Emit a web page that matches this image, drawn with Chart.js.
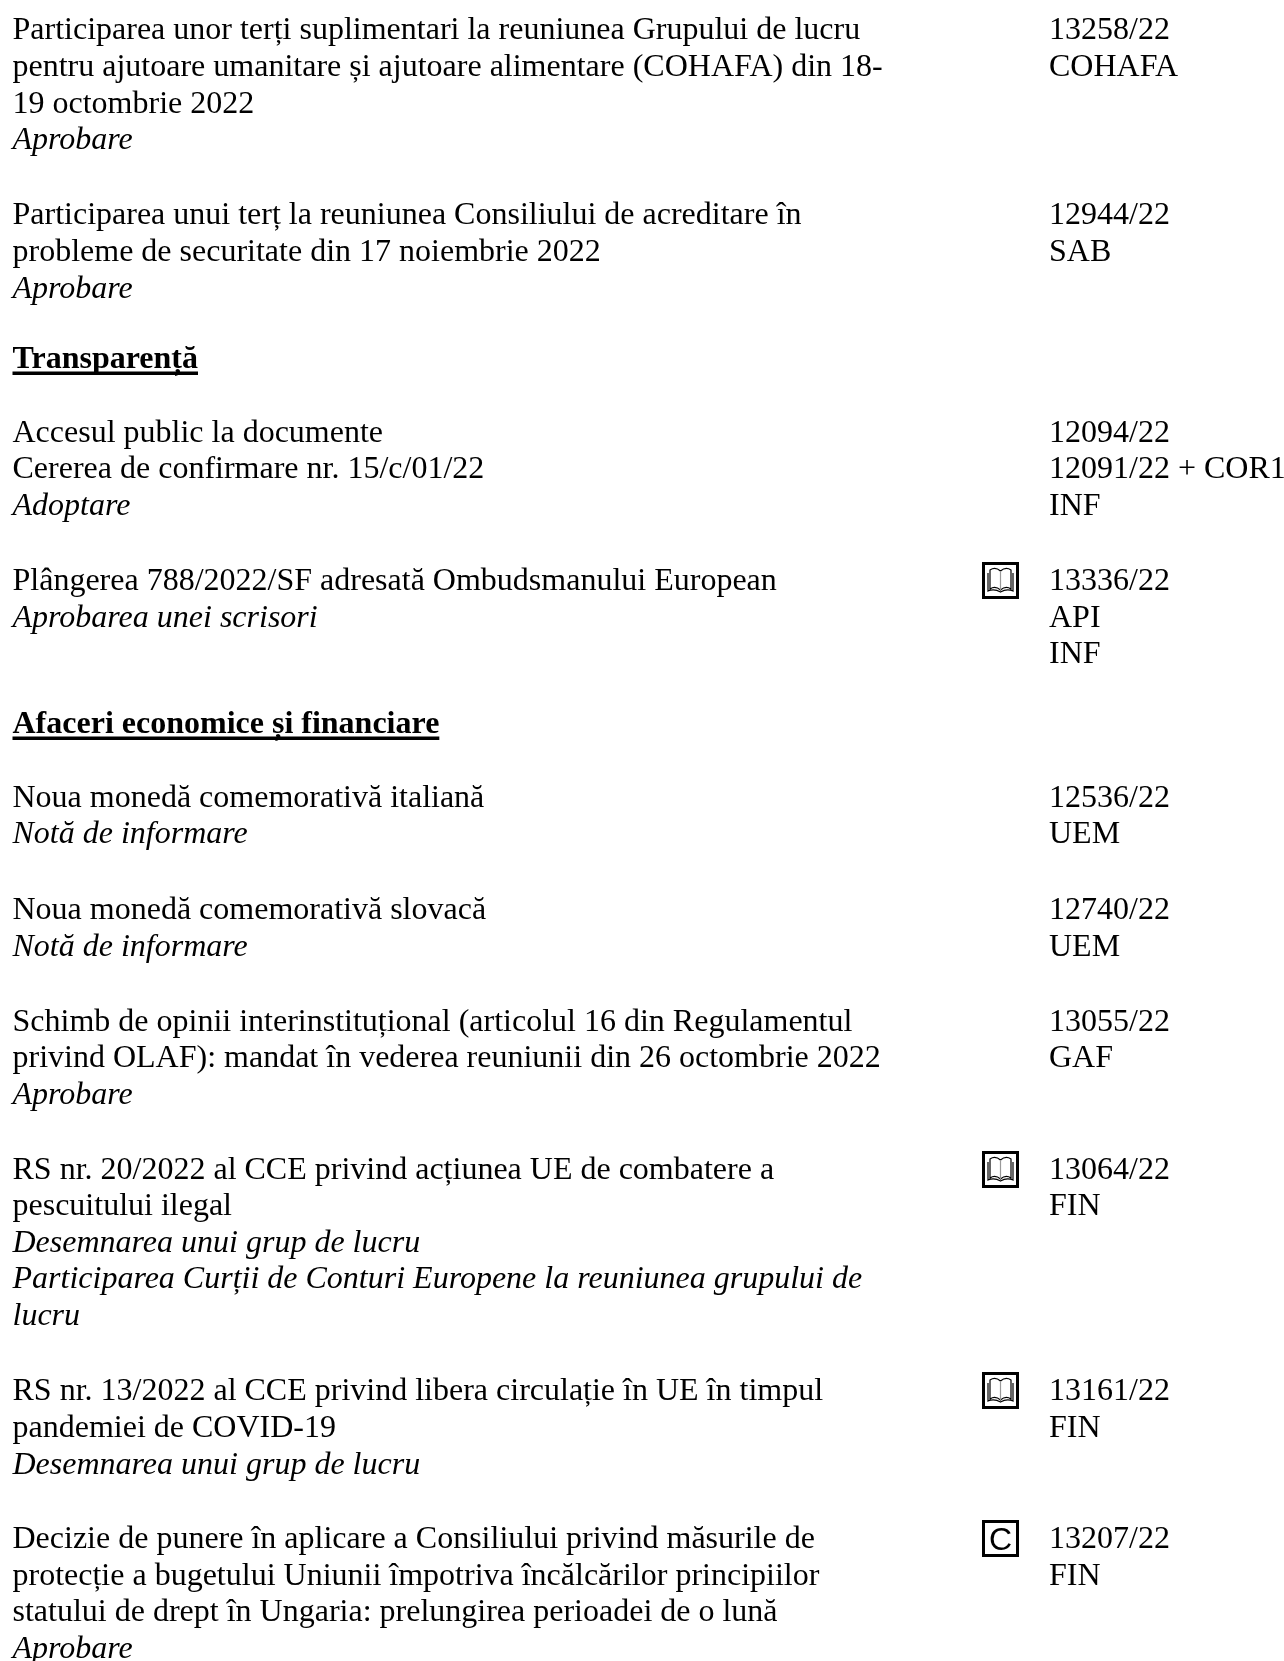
<!DOCTYPE html>
<html lang="ro">
<head>
<meta charset="utf-8">
<title>Document</title>
<style>html,body{margin:0;padding:0;background:#fff}canvas{display:block}</style>
<script src="https://cdn.jsdelivr.net/npm/chart.js@4"></script>
</head>
<body>
<canvas id="c" width="1284" height="1661"></canvas>
<script>
const bodyText = [
"Participarea unor terți suplimentari la reuniunea Grupului de lucru",
"pentru ajutoare umanitare și ajutoare alimentare (COHAFA) din 18-",
"19 octombrie 2022",
"Participarea unui terț la reuniunea Consiliului de acreditare în",
"probleme de securitate din 17 noiembrie 2022",
"Accesul public la documente",
"Cererea de confirmare nr. 15/c/01/22",
"Plângerea 788/2022/SF adresată Ombudsmanului European",
"Noua monedă comemorativă italiană",
"Noua monedă comemorativă slovacă",
"Schimb de opinii interinstituțional (articolul 16 din Regulamentul",
"privind OLAF): mandat în vederea reuniunii din 26 octombrie 2022",
"RS nr. 20/2022 al CCE privind acțiunea UE de combatere a",
"pescuitului ilegal",
"RS nr. 13/2022 al CCE privind libera circulație în UE în timpul",
"pandemiei de COVID-19",
"Decizie de punere în aplicare a Consiliului privind măsurile de",
"protecție a bugetului Uniunii împotriva încălcărilor principiilor",
"statului de drept în Ungaria: prelungirea perioadei de o lună"
];
const bodyLines = [39,76,113,224,261,442,478,590,807,919,1031,1067,1179,1215,1400,1437,1548,1585,1621];

const italicText = [
"Aprobare","Aprobare","Adoptare","Aprobarea unei scrisori",
"Notă de informare","Notă de informare","Aprobare",
"Desemnarea unui grup de lucru",
"Participarea Curții de Conturi Europene la reuniunea grupului de",
"lucru","Desemnarea unui grup de lucru","Aprobare"
];
const italicLines = [149,298,515,627,843,956,1104,1252,1288,1325,1474,1658];

const headingText = ["Transparență","Afaceri economice și financiare"];
const headingLines = [368,733];

const refText = [
"13258/22","COHAFA","12944/22","SAB","12094/22","12091/22 + COR1","INF",
"13336/22","API","INF","12536/22","UEM","12740/22","UEM","13055/22","GAF",
"13064/22","FIN","13161/22","FIN","13207/22","FIN"
];
const refLines = [39,76,224,261,442,478,515,590,627,663,807,843,919,956,1031,1067,1179,1215,1400,1437,1548,1585];

const bookLines = [590,1179,1400];
const certLines = [1548];

const FONT = '"Liberation Serif"';
const SIZE = 32;
const LEFT = 12.5, RIGHT = 1049, ICON = 1002;

function iconCanvas(draw){
  const c = document.createElement('canvas');
  c.width = 40; c.height = 56;
  const g = c.getContext('2d');
  g.strokeStyle = '#000'; g.fillStyle = '#000';
  g.lineWidth = 3;
  g.strokeRect(1.5,1.5,34,34);
  draw(g);
  return c;
}
const bookIcon = iconCanvas(g=>{
  g.lineWidth = 1.2;
  g.beginPath();
  g.moveTo(18.5,9); g.bezierCurveTo(15,6,11,6,8,8); g.lineTo(8,27); g.bezierCurveTo(11,25,15,25,18.5,28);
  g.bezierCurveTo(22,25,26,25,29,27); g.lineTo(29,8); g.bezierCurveTo(26,6,22,6,18.5,9);
  g.moveTo(6,11); g.lineTo(6,29); g.bezierCurveTo(11,27,15,28,18.5,30); g.bezierCurveTo(22,28,26,27,31,29); g.lineTo(31,11);
  g.stroke();
  g.strokeStyle='#999'; g.beginPath(); g.moveTo(18.5,9); g.lineTo(18.5,28); g.stroke();
});
const certIcon = iconCanvas(g=>{
  g.font = '32px "Liberation Sans"';
  g.textAlign='center'; g.textBaseline='alphabetic';
  g.fillText('C',18.5,30);
});

function pts(lines,x){ return lines.map(y=>({x,y})); }
const textSet = (label,text,lines,x,font,underline)=>({
  label,data:pts(lines,x),pointRadius:0,showLine:false,
  lines:text,lineFont:font,underline:!!underline
});
const textPlugin = {
  id:'docText',
  afterDatasetsDraw(chart){
    const ctx = chart.ctx;
    ctx.save();
    ctx.fillStyle = '#000';
    ctx.textBaseline = 'alphabetic';
    ctx.textAlign = 'left';
    chart.data.datasets.forEach((ds,i)=>{
      if(!ds.lines) return;
      ctx.font = ds.lineFont;
      chart.getDatasetMeta(i).data.forEach((p,j)=>{
        ctx.fillText(ds.lines[j],p.x,p.y);
        if(ds.underline){
          const w = ctx.measureText(ds.lines[j]).width;
          ctx.fillRect(p.x,p.y+3.5,w,3.5);
        }
      });
    });
    ctx.restore();
  }
};
new Chart(document.getElementById('c'),{
  type:'scatter',
  data:{datasets:[
    textSet('body',bodyText,bodyLines,LEFT,`${SIZE}px ${FONT}`),
    textSet('italic',italicText,italicLines,LEFT,`italic ${SIZE}px ${FONT}`),
    textSet('heading',headingText,headingLines,LEFT,`bold ${SIZE}px ${FONT}`,true),
    textSet('refs',refText,refLines,RIGHT,`${SIZE}px ${FONT}`),
    {label:'book',data:pts(bookLines,ICON),pointStyle:bookIcon,showLine:false},
    {label:'cert',data:pts(certLines,ICON),pointStyle:certIcon,showLine:false}
  ]},
  options:{
    responsive:false,animation:false,devicePixelRatio:1,
    layout:{padding:0,autoPadding:false},
    plugins:{legend:{display:false},tooltip:{enabled:false},title:{display:false}},
    scales:{
      x:{type:'linear',display:false,min:0,max:1284},
      y:{type:'linear',display:false,reverse:true,min:0,max:1661}
    }
  },
  plugins:[textPlugin]
});
</script>
</body>
</html>
